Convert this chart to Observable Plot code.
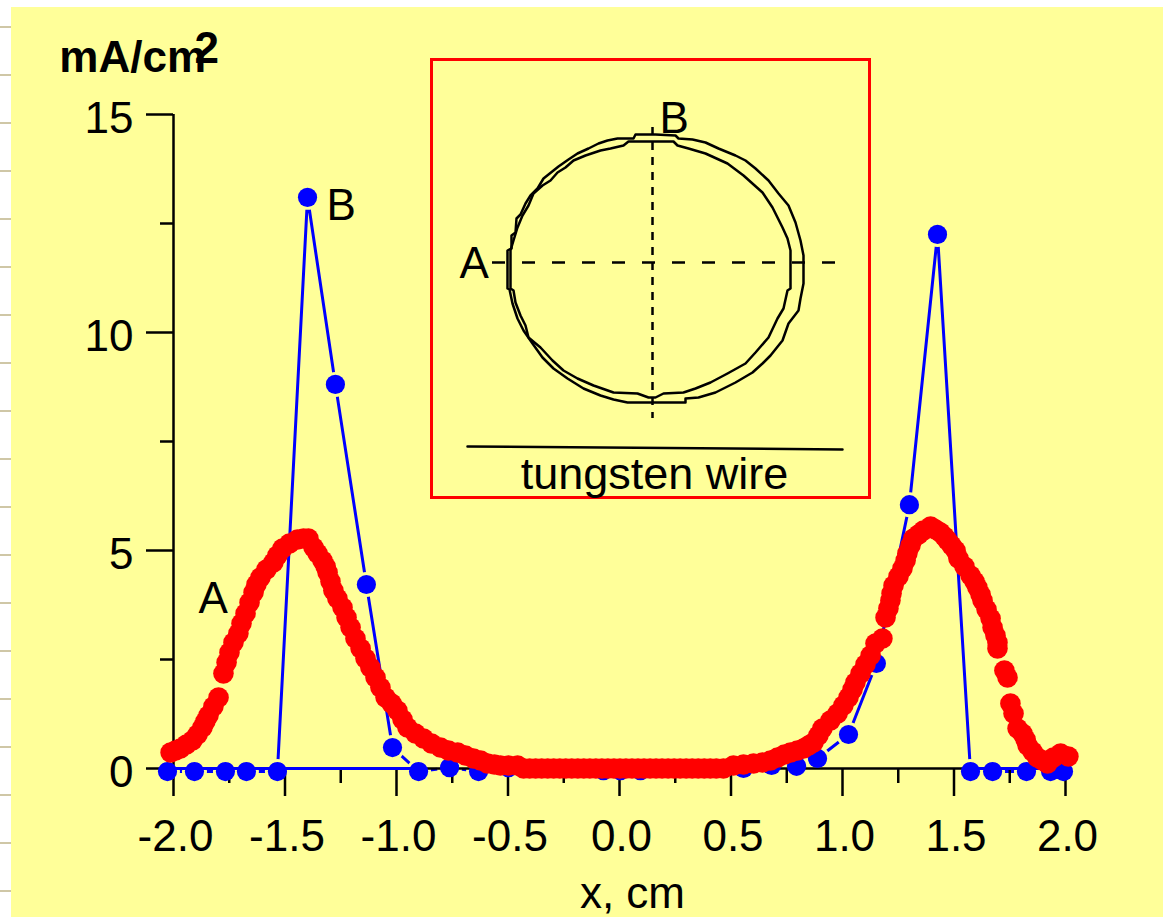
<!DOCTYPE html>
<html>
<head>
<meta charset="utf-8">
<script src="https://cdn.jsdelivr.net/npm/d3@7"></script>
<script src="https://cdn.jsdelivr.net/npm/@observablehq/plot@0.6"></script>
<style>
html,body{margin:0;padding:0;background:#fff;width:1163px;height:917px;overflow:hidden;font-family:"Liberation Sans",Arial,sans-serif}
#paper{position:absolute;left:11px;top:7px;right:0;bottom:0;background:#FFFF99}
#edge{position:absolute;left:0;top:0;width:11px;height:917px;background:repeating-linear-gradient(to bottom,transparent 0 26px,#cfc7a6 26px 28px,transparent 28px 48px)}
#main,#inset{position:absolute}
#main{left:0;top:0}
#inset{left:428px;top:56px}
svg{overflow:visible}
</style>
</head>
<body>
<div id="paper"></div><div id="edge"></div>
<div id="main"></div><div id="inset"></div>
<script>
// Series B: vertical scan (cm, mA/cm2)
const bX=[-2.027,-1.906,-1.767,-1.673,-1.534,-1.399,-1.274,-1.135,-1.018,-0.901,-0.762,-0.632,-0.498,-0.072,0.004,0.094,0.556,0.682,0.794,0.888,1.027,1.152,1.300,1.426,1.574,1.673,1.825,1.933,1.991];
const bY=[-0.07,-0.07,-0.07,-0.07,-0.07,13.1,8.81,4.22,0.48,-0.07,0.02,-0.07,0.02,-0.05,-0.05,-0.05,0,0.07,0.05,0.23,0.78,2.41,6.05,12.25,-0.07,-0.07,-0.07,-0.07,-0.07];
// Series A: horizontal scan (cm, mA/cm2)
const aX=[-2.013,-1.991,-1.969,-1.942,-1.915,-1.892,-1.870,-1.857,-1.843,-1.821,-1.798,-1.776,-1.762,-1.749,-1.731,-1.709,-1.695,-1.677,-1.659,-1.641,-1.628,-1.610,-1.583,-1.552,-1.534,-1.511,-1.480,-1.444,-1.417,-1.395,-1.372,-1.354,-1.332,-1.318,-1.309,-1.296,-1.283,-1.265,-1.242,-1.224,-1.206,-1.184,-1.161,-1.139,-1.117,-1.094,-1.072,-1.049,-1.022,-0.996,-0.973,-0.951,-0.915,-0.879,-0.843,-0.803,-0.767,-0.726,-0.691,-0.655,-0.623,-0.592,-0.561,-0.534,-0.498,-0.457,-0.430,
-0.403,-0.376,-0.349,-0.322,-0.295,-0.268,-0.241,-0.214,-0.187,-0.160,-0.133,-0.106,-0.079,-0.052,-0.025,0.002,0.029,0.056,0.083,0.110,0.137,0.164,0.191,0.218,0.245,0.272,0.299,0.326,0.353,0.380,0.407,0.434,
0.466,0.511,0.556,0.601,0.641,0.677,0.709,0.740,0.767,0.798,0.825,0.848,0.870,0.892,0.910,0.946,0.978,1.004,1.027,1.045,1.058,1.081,1.103,1.126,1.148,1.179,1.193,1.206,1.215,1.220,1.229,1.251,1.269,1.283,1.291,1.305,1.318,1.341,1.363,1.395,1.417,1.439,1.457,1.471,1.489,1.507,1.520,1.547,1.574,1.592,1.605,1.619,1.628,1.646,1.664,1.673,1.686,1.695,1.695,1.726,1.740,1.753,1.767,1.785,1.807,1.821,1.830,1.852,1.874,1.897,1.919,1.946,1.978,2.013];
const aY=[0.367,0.413,0.459,0.550,0.642,0.780,0.940,1.078,1.216,1.422,1.628,2.179,2.431,2.661,2.890,3.096,3.326,3.555,3.807,4.037,4.220,4.381,4.564,4.725,4.885,5.046,5.161,5.252,5.275,5.275,5.069,4.931,4.771,4.633,4.495,4.289,4.083,3.899,3.693,3.463,3.234,2.982,2.752,2.523,2.317,2.087,1.858,1.628,1.491,1.330,1.124,0.940,0.803,0.688,0.573,0.482,0.413,0.367,0.298,0.229,0.183,0.115,0.092,0.069,0.069,0.069,0,
0,0,0,0,0,0,0,0,0,0,0,0,0,0,0,0,0,0,0,0,0,0,0,0,0,0,0,0,0,0,0,0,
0,0.069,0.092,0.115,0.138,0.183,0.252,0.321,0.367,0.413,0.459,0.528,0.596,0.757,0.917,1.101,1.261,1.445,1.628,1.812,1.972,2.179,2.385,2.592,2.867,2.982,3.463,3.670,3.853,4.014,4.197,4.404,4.587,4.771,4.931,5.115,5.275,5.367,5.459,5.550,5.482,5.413,5.321,5.229,5.115,5.000,4.817,4.633,4.427,4.289,4.151,3.991,3.853,3.647,3.440,3.234,3.050,2.890,2.752,2.248,2.087,1.491,1.261,0.917,0.803,0.665,0.528,0.390,0.252,0.183,0.115,0.252,0.344,0.275];

const majorX=[-2,-1.5,-1,-0.5,0,0.5,1,1.5,2];
const minorX=[-1.75,-1.25,-0.75,-0.25,0.25,0.75,1.25,1.75];
const majorY=[0,5,10,15];
const minorY=[2.5,7.5,12.5];
const xLabel="x, cm", yLabel="mA/cm", yLabelSup="2";

// Inset cross-section contours, units from the crosshair centre
const outerX=[3,23,26,40,53,66,83,93,103,116,126,136,143,148,151,151,151,151,148,146,136,130,118,110,100,83,63,46,33,33,3,-25,-39,-52,-69,-85,-99,-110,-120,-129,-135,-140,-143,-145,-145,-145,-145,-141,-141,-137,-136,-132,-127,-122,-115,-109,-99,-94,-84,-75,-64,-54,-45,-35,-19,-17,3];
const outerY=[128,127,124,123,120,114,107,102,94,82,69,57,40,22,7,-1,-3,-21,-36,-48,-61,-78,-93,-101,-110,-120,-130,-135,-136,-140,-140,-140,-137,-133,-126,-116,-106,-95,-81,-68,-56,-41,-27,-26,-3,12,12,14,27,30,44,48,59,67,74,84,92,96,103,109,114,119,122,124,124,128,128];
const innerX=[3,21,25,36,53,75,91,110,120,130,135,138,138,138,135,131,125,116,103,93,75,58,43,31,11,3,-4,-15,-39,-59,-75,-89,-100,-112,-124,-127,-132,-137,-139,-142,-142,-142,-139,-135,-130,-124,-119,-110,-102,-95,-87,-79,-67,-52,-42,-29,-24,3];
const innerY=[121,121,117,114,109,99,87,70,55,35,24,12,-26,-26,-28,-46,-56,-75,-90,-101,-111,-120,-126,-130,-131,-135,-135,-131,-130,-123,-116,-108,-98,-85,-75,-63,-53,-40,-28,-26,12,12,22,35,47,57,69,77,82,90,95,102,107,112,114,117,121,121];
const wireX=[-185,190], wireY=[-184,-187];
const insetTexts=["A","B","tungsten wire"];

const blue="#0000FF", red="#FF0000", paper="#FFFF99";
const fs=44;
const idx=a=>a.map((_,i)=>i);

const main=Plot.plot({
  width:1163,height:917,
  marginLeft:173,marginRight:98,marginTop:114,marginBottom:149,
  style:{background:"transparent",fontFamily:"'Liberation Sans',Arial,sans-serif"},
  x:{domain:[-2,2],axis:null},
  y:{domain:[0,15],axis:null},
  marks:[
    Plot.line(idx(bX),{x:i=>bX[i],y:i=>bY[i],stroke:blue,strokeWidth:3}),
    Plot.dot(idx(bX),{x:i=>bX[i],y:i=>bY[i],r:12.5,fill:paper}),
    Plot.ruleY([0],{stroke:"#000",strokeWidth:2.5}),
    Plot.ruleX([-2],{y1:0,y2:15,stroke:"#000",strokeWidth:2.5}),
    Plot.axisX({ticks:minorX,tickSize:15,tickFormat:()=>"",strokeWidth:2.5,label:null}),
    Plot.axisX({ticks:majorX,tickSize:28,tickFormat:()=>"",strokeWidth:2.5,label:null}),
    Plot.axisX({ticks:majorX,tickSize:0,tickPadding:51,dx:2,tickFormat:d=>d.toFixed(1),fontSize:fs,label:null}),
    Plot.axisY({ticks:minorY,tickSize:13,tickFormat:()=>"",strokeWidth:2.5,label:null}),
    Plot.axisY({ticks:majorY,tickSize:27,tickFormat:()=>"",strokeWidth:2.5,label:null}),
    Plot.axisY({ticks:majorY,tickSize:0,tickPadding:40,dy:4,tickFormat:d=>String(d),fontSize:fs,label:null}),
    Plot.ruleY([0],{x1:-2.03,x2:-0.9,stroke:blue,strokeWidth:3}),
    Plot.ruleY([0],{x1:1.6,x2:1.9,stroke:blue,strokeWidth:3}),
    Plot.dot(idx(bX),{x:i=>bX[i],y:i=>bY[i],r:9.6,fill:blue}),
    Plot.dot(idx(aX),{x:i=>aX[i],y:i=>aY[i],r:10.3,fill:red}),
    Plot.text(["A"],{x:[-1.888],y:[3.88],text:d=>d,textAnchor:"start",fontSize:fs}),
    Plot.text(["B"],{x:[-1.314],y:[12.91],text:d=>d,textAnchor:"start",fontSize:fs}),
    Plot.text([xLabel],{x:[0.058],y:[-2.87],text:d=>d,textAnchor:"middle",fontSize:fs}),
    Plot.text([yLabel],{x:[-2.512],y:[16.3],text:d=>d,textAnchor:"start",fontSize:44,fontWeight:"bold"}),
    Plot.text([yLabelSup],{x:[-1.906],y:[16.51],text:d=>d,textAnchor:"start",fontSize:44,fontWeight:"bold"})
  ]
});
document.getElementById("main").append(main);

const inset=Plot.plot({
  width:444,height:444,margin:3,
  style:{background:"transparent",fontFamily:"'Liberation Sans',Arial,sans-serif"},
  x:{domain:[-221,217],axis:null},
  y:{domain:[-235,203],axis:null},
  marks:[
    Plot.frame({stroke:red,strokeWidth:3}),
    Plot.line(idx(outerX),{x:i=>outerX[i],y:i=>outerY[i],stroke:"#000",strokeWidth:2.5}),
    Plot.line(idx(innerX),{x:i=>innerX[i],y:i=>innerY[i],stroke:"#000",strokeWidth:2.5}),
    Plot.ruleY([0],{x1:-160,x2:184,stroke:"#000",strokeWidth:2.5,strokeDasharray:"13 17"}),
    Plot.ruleX([0],{y1:135,y2:-156,stroke:"#000",strokeWidth:2.5,strokeDasharray:"8 7"}),
    Plot.line(idx(wireX),{x:i=>wireX[i],y:i=>wireY[i],stroke:"#000",strokeWidth:2.5}),
    Plot.text([insetTexts[0]],{x:[-193],y:[-1],text:d=>d,textAnchor:"start",fontSize:fs}),
    Plot.text([insetTexts[1]],{x:[7],y:[144],text:d=>d,textAnchor:"start",fontSize:fs}),
    Plot.text([insetTexts[2]],{x:[2],y:[-212],text:d=>d,textAnchor:"middle",fontSize:45})
  ]
});
document.getElementById("inset").append(inset);
</script>
</body>
</html>
